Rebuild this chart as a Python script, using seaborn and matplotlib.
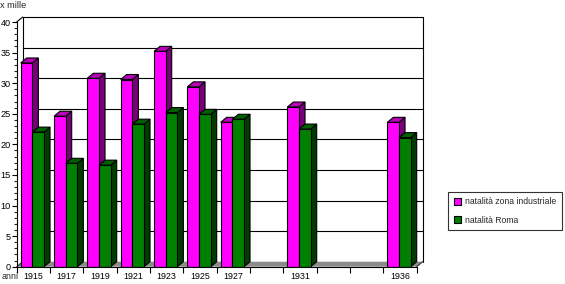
import matplotlib
matplotlib.use("Agg")
import matplotlib.pyplot as plt
import seaborn as sns
import pandas as pd
import numpy as np
from matplotlib.patches import Polygon, Patch

# ---- data ----
categories = ["1915", "1917", "1919", "1921", "1923", "1925", "1927",
              "1929", "1931", "1933", "1934", "1936"]
tick_labels = ["1915", "1917", "1919", "1921", "1923", "1925", "1927",
               "", "1931", "", "", "1936"]
industriale = [33.3, 24.6, 30.8, 30.6, 35.2, 29.4, 23.6, None, 26.1, None, None, 23.6]
roma = [22.0, 16.9, 16.6, 23.3, 25.2, 24.9, 24.1, None, 22.5, None, None, 21.1]
series_names = ["natalità zona industriale", "natalità Roma"]
y_title = "x mille"
x_title = "anni"

# ---- style ----
pink, pink_top, pink_side = "#FF00FF", "#B800B8", "#7A007A"
green, green_top, green_side = "#008000", "#006000", "#003C00"
floor_col = "#8C8C8C"

sns.set_style("white")
plt.rcParams["font.family"] = ["Liberation Sans", "DejaVu Sans"]

rows = []
for cat, a, b in zip(categories, industriale, roma):
    if a is not None:
        rows.append({"anno": cat, "valore": a, "serie": series_names[0]})
    if b is not None:
        rows.append({"anno": cat, "valore": b, "serie": series_names[1]})
df = pd.DataFrame(rows)

W, H = 565, 284
fig = plt.figure(figsize=(W / 100, H / 100), dpi=100)
left_px, right_px = 16.7, 416.7
bottom_px, top_px = 266.7, 22.0
ax = fig.add_axes([left_px / W, (H - bottom_px) / H,
                   (right_px - left_px) / W, (bottom_px - top_px) / H])
ax.patch.set_alpha(0)

sns.barplot(data=df, x="anno", y="valore", hue="serie", order=categories,
            hue_order=series_names, palette=[pink, green], width=0.7,
            saturation=1, edgecolor="black", linewidth=0.8, errorbar=None,
            legend=False, ax=ax)

n = len(categories)
ax.set_xlim(-0.5, n - 0.5)
ax.set_ylim(0, 40)

# pixel -> data offsets for the depth effect
px_x = (right_px - left_px) / n
px_y = (bottom_px - top_px) / 40
dxd = 6 / px_x
dyd = 5 / px_y

# back wall grid
for v in range(5, 41, 5):
    ax.plot([-0.5 + dxd, n - 0.5 + dxd], [v + dyd, v + dyd], color="black",
            lw=0.8, zorder=1, clip_on=False)
for xv in (-0.5 + dxd, n - 0.5 + dxd):
    ax.plot([xv, xv], [dyd, 40 + dyd], color="black", lw=0.8, zorder=1,
            clip_on=False)
ax.plot([-0.5, -0.5 + dxd], [40, 40 + dyd], color="black", lw=0.8,
        zorder=1, clip_on=False)

# floor
floor = Polygon([(-0.5, 0), (n - 0.5, 0), (n - 0.5 + dxd, dyd), (-0.5 + dxd, dyd)],
                closed=True, facecolor=floor_col, edgecolor="none", zorder=2,
                clip_on=False)
ax.add_patch(floor)
ax.plot([-0.5, -0.5 + dxd], [0, dyd], color="#333333", lw=0.8, zorder=2,
        clip_on=False)
ax.plot([n - 0.5, n - 0.5 + dxd], [0, dyd], color="#333333", lw=0.8, zorder=2,
        clip_on=False)

# 3D faces of bars
bars = sorted([p for p in ax.patches if isinstance(p, matplotlib.patches.Rectangle)
               and p is not ax.patch and p.get_height() > 0],
              key=lambda p: p.get_x())
pink_rgb = matplotlib.colors.to_rgb(pink)
for r, p in enumerate(bars):
    p.set_x(p.get_x() - 0.03)
    x, w, h = p.get_x(), p.get_width(), p.get_height()
    is_pink = np.allclose(p.get_facecolor()[:3], pink_rgb)
    tcol = pink_top if is_pink else green_top
    scol = pink_side if is_pink else green_side
    z = 10 + r
    p.set_zorder(z + 0.2)
    side = Polygon([(x + w, 0), (x + w + dxd, dyd), (x + w + dxd, h + dyd), (x + w, h)],
                   closed=True, facecolor=scol, edgecolor="black", lw=0.8,
                   zorder=z, clip_on=False)
    top = Polygon([(x, h), (x + dxd, h + dyd), (x + w + dxd, h + dyd), (x + w, h)],
                  closed=True, facecolor=tcol, edgecolor="black", lw=0.8,
                  zorder=z + 0.1, clip_on=False)
    ax.add_patch(side)
    ax.add_patch(top)

# axes / ticks
for s in ("top", "right"):
    ax.spines[s].set_visible(False)
for s in ("left", "bottom"):
    ax.spines[s].set_color("black")
    ax.spines[s].set_linewidth(0.8)
    ax.spines[s].set_zorder(50)
ax.set_xlabel("")
ax.set_ylabel("")
ax.set_yticks(range(0, 41, 5))
ax.set_yticks(range(0, 41, 1), minor=True)
ax.tick_params(axis="y", which="major", left=True, length=3.6, width=0.8,
               pad=0.8, labelsize=6.6, colors="black")
ax.tick_params(axis="y", which="minor", left=True, length=2.0, width=0.8)
ax.set_xticks(np.arange(-0.5, n, 1))
ax.set_xticklabels([""] * (n + 1))
ax.set_xticks(range(n), minor=True)
ax.set_xticklabels(tick_labels, minor=True)
ax.tick_params(axis="x", which="major", bottom=True, length=4.5, width=0.8,
               colors="black")
ax.tick_params(axis="x", which="minor", bottom=True, length=0, pad=3.6,
               labelsize=6.4, colors="black")
ax.grid(False)

fig.text(0.0, 1 - 5.5 / H, y_title, ha="left", va="center", fontsize=6.6)
fig.text(2 / W, 1 - 276.5 / H, x_title, ha="left", va="center", fontsize=6.4)

handles = [Patch(facecolor=pink, edgecolor="black", linewidth=0.8),
           Patch(facecolor=green, edgecolor="black", linewidth=0.8)]
leg = fig.legend(handles, series_names, loc="center",
                 bbox_to_anchor=((446 + 564) / 2 / W, 1 - 211 / H),
                 fontsize=6.2, frameon=True, fancybox=False, shadow=False,
                 handlelength=0.85, handleheight=0.85, handletextpad=0.4,
                 labelspacing=1.1, borderpad=0.65, borderaxespad=0)
leg.get_frame().set_edgecolor("black")
leg.get_frame().set_linewidth(0.8)

fig.savefig("out.png", dpi=100)
